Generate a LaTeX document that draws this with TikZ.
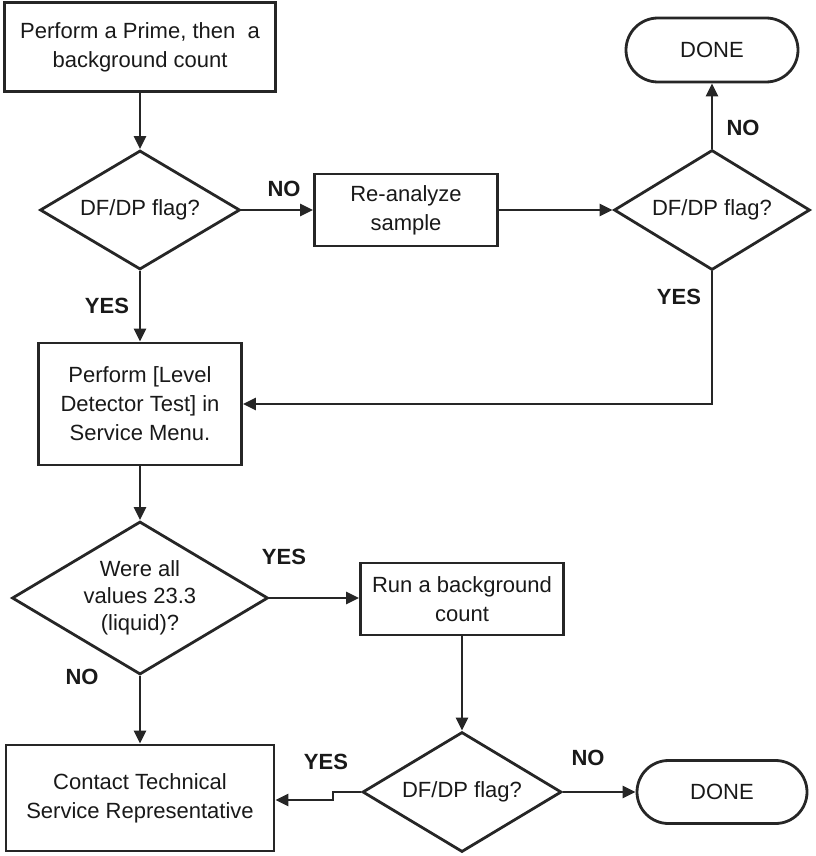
\documentclass[tikz,border=0pt]{standalone}
\usepackage{fontspec}
\setmainfont{Liberation Sans}
\usetikzlibrary{shapes.geometric,shapes.misc,arrows.meta}
\begin{document}
\begin{tikzpicture}[x=1pt,y=-1pt,
  every node/.style={font=\fontsize{22}{29}\selectfont, text=black!90},
  line/.style={draw=black!85, line width=2.8pt},
  arr/.style={line, -{Triangle[length=13pt,width=12pt]}},
  box/.style={draw=black!85, line width=2.8pt, rectangle, inner sep=0pt, align=center},
  dia/.style={draw=black!85, line width=2.8pt, diamond, inner sep=0pt},
  term/.style={draw=black!85, line width=2.8pt, rounded rectangle, inner sep=0pt},
  lbl/.style={font=\fontsize{22}{26}\selectfont\bfseries},
  txt/.style={align=center, inner sep=0pt}]
\useasboundingbox (0,0) rectangle (815,856);
% shapes
\node[box, minimum width=271, minimum height=89] (b1) at (140,47) {Perform a Prime, then\ \ a\\background count};
\node[dia, minimum width=200, minimum height=119] (d1) at (140,210) {};
\node[txt] (d1t) at (d1) {DF/DP flag?};
\node[box, minimum width=183, minimum height=72] (b2) at (406,210) {Re-analyze\\sample};
\node[dia, minimum width=196, minimum height=120] (d2) at (712,210) {};
\node[txt] (d2t) at (d2) {DF/DP flag?};
\node[term, minimum width=172, minimum height=64] (t1) at (712,50) {DONE};
\node[box, minimum width=203, minimum height=122] (b3) at (140,404) {Perform [Level\\Detector Test] in\\Service Menu.};
\node[dia, minimum width=256, minimum height=153] (d3) at (140,598) {};
\node[txt, font=\fontsize{22}{27}\selectfont] (d3t) at (d3) {Were all\\values 23.3\\(liquid)?};
\node[box, minimum width=203, minimum height=72] (b4) at (462,599) {Run a background\\count};
\node[dia, minimum width=199, minimum height=120] (d4) at (462,792) {};
\node[txt] (d4t) at (d4) {DF/DP flag?};
\node[term, minimum width=170, minimum height=63] (t2) at (722,792) {DONE};
\node[box, minimum width=268, minimum height=106] (b5) at (140,798) {Contact Technical\\Service Representative};
% connectors
\draw[arr] (b1) -- (d1);
\draw[arr] (d1.east) -- (b2.west);
\draw[arr] (b2.east) -- (d2.west);
\draw[arr] (d2.north) -- (t1.south);
\draw[arr] (d1.south) -- (b3.north);
\draw[arr] (d2.south) |- (b3.east);
\draw[arr] (b3.south) -- (d3.north);
\draw[arr] (d3.east) -- (d3.east -| b4.west);
\draw[arr] (b4.south) -- (d4.north);
\draw[arr] (d4.east) -- (t2.west);
\draw[arr] (d3.south) -- (b5.north);
\coordinate (j1) at (333,792);
\coordinate (j2) at (333,800);
\draw[arr] (d4.west) -- (j1) -- (j2) -- (j2 -| b5.east);
% labels
\node[lbl] (l1) at (284,189) {NO};
\node[lbl] (l2) at (107,306) {YES};
\node[lbl] (l3) at (743,128) {NO};
\node[lbl] (l4) at (679,297) {YES};
\node[lbl] (l5) at (284,557) {YES};
\node[lbl] (l6) at (82,677) {NO};
\node[lbl] (l7) at (326,762) {YES};
\node[lbl] (l8) at (588,758) {NO};
\end{tikzpicture}
\end{document}
